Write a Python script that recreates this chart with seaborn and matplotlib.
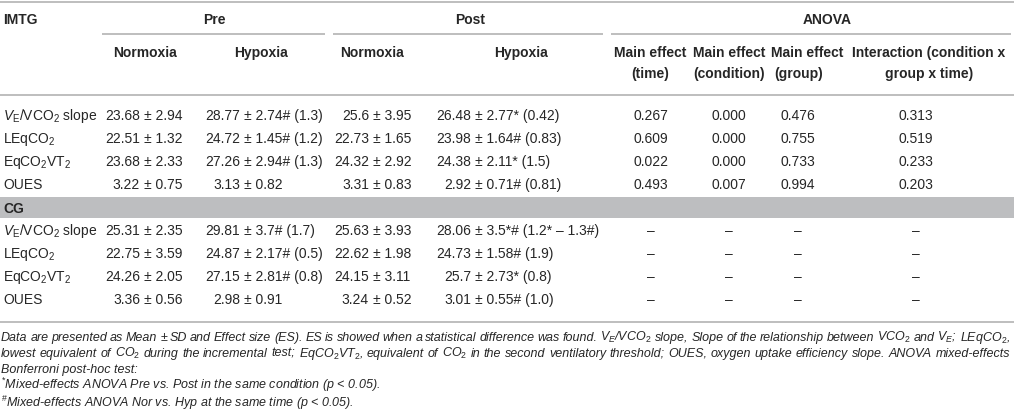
import matplotlib
matplotlib.use("Agg")
import matplotlib.pyplot as plt
import seaborn as sns

sns.set_theme(style="white")
plt.rcParams["font.family"] = ["Liberation Sans", "DejaVu Sans"]
plt.rcParams["mathtext.fontset"] = "custom"
plt.rcParams["mathtext.rm"] = "Liberation Sans"
plt.rcParams["mathtext.it"] = "Liberation Sans:italic"
plt.rcParams["mathtext.bf"] = "Liberation Sans:bold"

# ---- table data ----
variables = [r"$V_\mathrm{E}$/VCO$_2$ slope", "LEqCO$_2$", "EqCO$_2$VT$_2$", "OUES"]

imtg_pre_nor_mean = [23.68, 22.51, 23.68, 3.22]
imtg_pre_nor_sd = [2.94, 1.32, 2.33, 0.75]
imtg_pre_hyp_mean = [28.77, 24.72, 27.26, 3.13]
imtg_pre_hyp_sd = [2.74, 1.45, 2.94, 0.82]
imtg_pre_hyp_mark = ["#", "#", "#", ""]
imtg_pre_hyp_es = ["1.3", "1.2", "1.3", ""]
imtg_post_nor_mean = [25.6, 22.73, 24.32, 3.31]
imtg_post_nor_sd = [3.95, 1.65, 2.92, 0.83]
imtg_post_hyp_mean = [26.48, 23.98, 24.38, 2.92]
imtg_post_hyp_sd = [2.77, 1.64, 2.11, 0.71]
imtg_post_hyp_mark = ["*", "#", "*", "#"]
imtg_post_hyp_es = ["0.42", "0.83", "1.5", "0.81"]
imtg_p_time = [0.267, 0.609, 0.022, 0.493]
imtg_p_condition = [0.000, 0.000, 0.000, 0.007]
imtg_p_group = [0.476, 0.755, 0.733, 0.994]
imtg_p_interaction = [0.313, 0.519, 0.233, 0.203]

cg_pre_nor_mean = [25.31, 22.75, 24.26, 3.36]
cg_pre_nor_sd = [2.35, 3.59, 2.05, 0.56]
cg_pre_hyp_mean = [29.81, 24.87, 27.15, 2.98]
cg_pre_hyp_sd = [3.7, 2.17, 2.81, 0.91]
cg_pre_hyp_mark = ["#", "#", "#", ""]
cg_pre_hyp_es = ["1.7", "0.5", "0.8", ""]
cg_post_nor_mean = [25.63, 22.62, 24.15, 3.24]
cg_post_nor_sd = [3.93, 1.98, 3.11, 0.52]
cg_post_hyp_mean = [28.06, 24.73, 25.7, 3.01]
cg_post_hyp_sd = [3.5, 1.58, 2.73, 0.55]
cg_post_hyp_mark = ["*#", "#", "*", "#"]
cg_post_hyp_es = ["1.2* \u2013 1.3#", "1.9", "0.8", "1.0"]
cg_p = [None, None, None, None]

caption_1 = (r"Data are presented as Mean ± SD and Effect size (ES). ES is showed when a statistical "
             r"difference was found. $\mathit{V_E}$/VCO$_2$ slope, Slope of the relationship between "
             r"VCO$_2$ and $\mathit{V_E}$; LEqCO$_2$,")
caption_2 = (r"lowest equivalent of CO$_2$ during the incremental test; EqCO$_2$VT$_2$, equivalent of "
             r"CO$_2$ in the second ventilatory threshold; OUES, oxygen uptake efficiency slope. "
             r"ANOVA mixed-effects")
caption_3 = "Bonferroni post-hoc test:"
caption_4 = r"$^{*}$Mixed-effects ANOVA Pre vs. Post in the same condition (p < 0.05)."
caption_5 = r"$^{\#}$Mixed-effects ANOVA Nor vs. Hyp at the same time (p < 0.05)."

# ---- layout (pixels) ----
W, H = 1014, 416
TXT = "#262626"
LINE = "#b3b3b3"
FS = 10

fig = plt.figure(figsize=(W / 100, H / 100), dpi=100)
ax = fig.add_axes([0, 0, 1, 1])
ax.set_xlim(0, W)
ax.set_ylim(H, 0)
ax.axis("off")

# rules and CG band
ax.hlines([2, 95, 322], 0, W, color=LINE, lw=1.2)
ax.hlines([34, 34, 34], [102, 333, 611], [325, 603, 1011], color=LINE, lw=1.2)
ax.fill_between([0, W], 197, 218, color="#bdbec0", lw=0)

bold = dict(fontsize=FS, fontweight="bold", color=TXT)
ax.text(3, 24, "IMTG", ha="left", va="baseline", **bold)
ax.text(214, 24, "Pre", ha="center", va="baseline", **bold)
ax.text(470, 24, "Post", ha="center", va="baseline", **bold)
ax.text(827, 24, "ANOVA", ha="center", va="baseline", **bold)
for x, s in [(145, "Normoxia"), (261, "Hypoxia"), (372, "Normoxia"), (521, "Hypoxia")]:
    ax.text(x, 57, s, ha="center", va="baseline", **bold)
anova_head_x = [650, 729, 807, 929]
anova_x = [651, 729, 798, 916]
anova_h1 = ["Main effect", "Main effect", "Main effect", "Interaction (condition x"]
anova_h2 = ["(time)", "(condition)", "(group)", "group x time)"]
for x, a, b in zip(anova_head_x, anova_h1, anova_h2):
    ax.text(x, 57, a, ha="center", va="baseline", **bold)
    ax.text(x - 8 if b == "(group)" else x, 78, b, ha="center", va="baseline", **bold)
ax.text(3, 213, "CG", ha="left", va="baseline", **bold)

mean_x = [140, 240, 369, 471]
body = dict(fontsize=FS, color=TXT, va="baseline")


def cell(x, y, mean, sd, mark="", es=""):
    ax.text(x, y, str(mean), ha="right", **body)
    rest = "± " + str(sd) + mark
    if es:
        rest += " (" + es + ")"
    ax.text(x + 4, y, rest, ha="left", **body)


def block(rows_y, cols, pvals):
    for i, y in enumerate(rows_y):
        ax.text(3, y, variables[i], ha="left", **body)
        for x, (m, s, mk, es) in zip(mean_x, cols):
            cell(x, y, m[i], s[i], mk[i] if mk else "", es[i] if es else "")
        for x, p in zip(anova_x, pvals):
            v = p[i]
            ax.text(x, y, "\u2013" if v is None else f"{v:.3f}", ha="center", **body)


block([120, 143, 166, 189],
      [(imtg_pre_nor_mean, imtg_pre_nor_sd, None, None),
       (imtg_pre_hyp_mean, imtg_pre_hyp_sd, imtg_pre_hyp_mark, imtg_pre_hyp_es),
       (imtg_post_nor_mean, imtg_post_nor_sd, None, None),
       (imtg_post_hyp_mean, imtg_post_hyp_sd, imtg_post_hyp_mark, imtg_post_hyp_es)],
      [imtg_p_time, imtg_p_condition, imtg_p_group, imtg_p_interaction])
block([235, 258, 281, 304],
      [(cg_pre_nor_mean, cg_pre_nor_sd, None, None),
       (cg_pre_hyp_mean, cg_pre_hyp_sd, cg_pre_hyp_mark, cg_pre_hyp_es),
       (cg_post_nor_mean, cg_post_nor_sd, None, None),
       (cg_post_hyp_mean, cg_post_hyp_sd, cg_post_hyp_mark, cg_post_hyp_es)],
      [cg_p, cg_p, cg_p, cg_p])

# caption
cap = dict(fontsize=9.0, fontstyle="italic", color=TXT, va="baseline",
           family=["Liberation Sans Narrow", "Liberation Sans"])
renderer = fig.canvas.get_renderer()


def justify(line, y, x0=1, x1=1010):
    words = line.split(" ")
    texts = [ax.text(0, y, w, ha="left", **cap) for w in words]
    widths = [t.get_window_extent(renderer).width for t in texts]
    gap = max((x1 - x0 - sum(widths)) / (len(words) - 1), 1.5)
    x = x0
    for t, w in zip(texts, widths):
        t.set_x(x)
        x += w + gap


justify(caption_1, 341)
justify(caption_2, 357)
ax.text(1, 373, caption_3, ha="left", **cap)
ax.text(1, 389, caption_4, ha="left", **cap)
ax.text(1, 407, caption_5, ha="left", **cap)

fig.savefig("out.png", dpi=100)
